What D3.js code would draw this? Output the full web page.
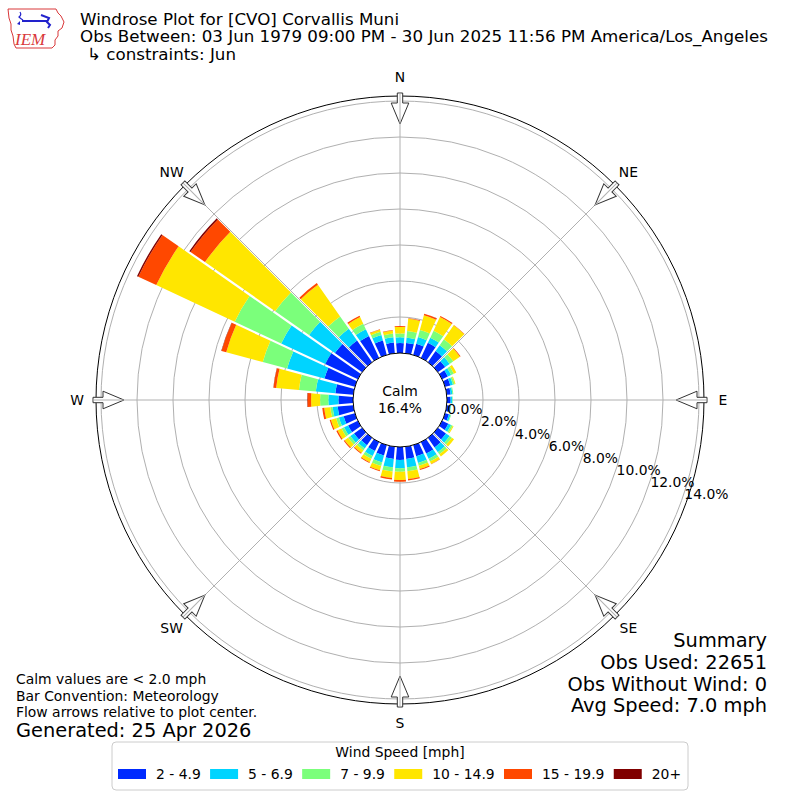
<!DOCTYPE html>
<html><head><meta charset="utf-8">
<script src="https://cdn.jsdelivr.net/npm/d3@7"></script>
<style>
body{margin:0;background:#fff}
svg{font-family:"DejaVu Sans",sans-serif;display:block}
</style></head>
<body><svg id="chart" width="800" height="800"></svg>
<script>
// ---------------- DATA ----------------
const directions = [0,10,20,30,40,50,60,70,80,90,100,110,120,130,140,150,160,170,
                    180,190,200,210,220,230,240,250,260,270,280,290,300,310,320,330,340,350];
const speedBins = ["2 - 4.9","5 - 6.9","7 - 9.9","10 - 14.9","15 - 19.9","20+"];
// percent of observations per direction for each speed bin
const bin2to5   = [0.55,0.58,0.64,0.92,0.75,0.50,0.35,0.30,0.22,0.20,0.17,0.22,0.38,0.55,0.65,0.70,0.64,0.68,
                   0.72,0.68,0.60,0.55,0.50,0.55,0.60,0.65,0.87,0.81,1.00,1.75,2.00,1.85,1.46,1.34,0.83,0.60];
const bin5to7   = [0.32,0.29,0.39,0.32,0.40,0.30,0.20,0.15,0.10,0.09,0.06,0.09,0.17,0.25,0.32,0.32,0.39,0.47,
                   0.46,0.47,0.40,0.30,0.22,0.25,0.25,0.27,0.28,0.56,1.09,2.15,2.70,1.75,0.80,0.41,0.32,0.30];
const bin7to10  = [0.22,0.37,0.40,0.43,0.40,0.25,0.17,0.10,0.05,0.03,0.02,0.04,0.10,0.15,0.14,0.17,0.16,0.22,
                   0.19,0.23,0.20,0.17,0.13,0.15,0.15,0.16,0.13,0.46,0.94,1.40,2.85,2.30,0.84,0.34,0.18,0.20];
const bin10to15 = [0.36,0.68,0.85,0.83,0.95,0.45,0.15,0.05,0.00,0.00,0.00,0.00,0.05,0.15,0.15,0.15,0.18,0.43,
                   0.46,0.37,0.25,0.21,0.18,0.24,0.25,0.30,0.34,0.50,1.27,2.10,4.81,4.76,2.15,0.41,0.12,0.17];
const bin15to20 = [0.05,0.04,0.08,0.07,0.02,0.04,0.00,0.00,0.00,0.00,0.00,0.00,0.00,0.00,0.00,0.02,0.06,0.08,
                   0.10,0.08,0.05,0.05,0.05,0.06,0.07,0.07,0.11,0.20,0.15,0.27,1.10,0.98,0.11,0.08,0.03,0.03];
const bin20plus = [0.00,0.00,0.01,0.00,0.00,0.00,0.00,0.00,0.00,0.00,0.00,0.00,0.00,0.00,0.00,0.00,0.00,0.00,
                   0.00,0.00,0.00,0.00,0.00,0.00,0.00,0.00,0.00,0.02,0.01,0.02,0.08,0.08,0.00,0.00,0.00,0.00];
const binColors = ["#002aff","#00d4ff","#7bff7b","#ffe600","#ff4800","#800000"];
const ringTicks = [0,2,4,6,8,10,12,14];
const compassLabels = ["N","NE","E","SE","S","SW","W","NW"];
const compassAngles = [0,45,90,135,180,225,270,315];
const calmPct = 16.4;
const titleLines = ["Windrose Plot for [CVO] Corvallis Muni",
  "Obs Between: 03 Jun 1979 09:00 PM - 30 Jun 2025 11:56 PM America/Los_Angeles",
  "\u21b3 constraints: Jun"];
const noteLines = ["Calm values are < 2.0 mph","Bar Convention: Meteorology","Flow arrows relative to plot center."];
const generatedText = "Generated: 25 Apr 2026";
const summaryLines = ["Summary","Obs Used: 22651","Obs Without Wind: 0","Avg Speed: 7.0 mph"];

// ---------------- SETUP ----------------
const svg = d3.select("#chart");
const cx = 400, cy = 400, calmR = 47, outerR = 304;
const r = d3.scaleLinear().domain([0, (outerR - calmR) / 18]).range([calmR, outerR]);
const ang = d3.scaleLinear().domain([0, 360]).range([0, 2 * Math.PI]);

const keys = ["b0","b1","b2","b3","b4","b5"];
const series = [bin2to5, bin5to7, bin7to10, bin10to15, bin15to20, bin20plus];
const table = directions.map((d, i) => {
  const row = {dir: d};
  keys.forEach((k, j) => row[k] = series[j][i]);
  return row;
});
const stacked = d3.stack().keys(keys)(table);

const g = svg.append("g").attr("transform", `translate(${cx},${cy})`);

// grid circles
g.selectAll("circle.grid").data(ringTicks.filter(t => t > 0)).join("circle")
  .attr("class","grid").attr("r", d => r(d))
  .attr("fill","none").attr("stroke","#b0b0b0").attr("stroke-width",1);

// radial grid lines
const radial = d => [Math.sin(ang(d)), -Math.cos(ang(d))];
g.selectAll("line.rad").data(compassAngles).join("line")
  .attr("class","rad")
  .attr("x1", 0).attr("y1", 0)
  .attr("x2", d => radial(d)[0] * outerR).attr("y2", d => radial(d)[1] * outerR)
  .attr("stroke","#b0b0b0").attr("stroke-width",1);

// bars
const arc = d3.arc().padAngle(0.022).padRadius(100);
const half = 5;
g.selectAll("g.layer").data(stacked).join("g").attr("class","layer")
  .attr("fill", (d, i) => binColors[i])
  .selectAll("path").data(d => d.filter(s => s[1] - s[0] > 0)).join("path")
  .attr("d", s => arc({
    innerRadius: r(s[0]), outerRadius: r(s[1]),
    startAngle: ang(s.data.dir - half), endAngle: ang(s.data.dir + half)
  }));

// calm circle
g.append("circle").attr("r", calmR).attr("fill","#fff").attr("stroke","#000").attr("stroke-width",1);
// outer spine
g.append("circle").attr("r", outerR).attr("fill","none").attr("stroke","#000").attr("stroke-width",1);

// arrows (pointing toward center)
const arrowPts = [[-2.7,-307],[2.7,-307],[2.7,-297],[8.8,-297],[0,-276],[-8.8,-297],[-2.7,-297]];
const ag = g.selectAll("g.arrow").data(compassAngles).join("g").attr("class","arrow")
  .attr("transform", d => `rotate(${d})`);
ag.append("polygon").attr("points", arrowPts.map(p => p.join(",")).join(" "))
  .attr("fill","#fff").attr("stroke","#333").attr("stroke-width",1);
ag.append("line").attr("x1",0).attr("x2",0).attr("y1",-307).attr("y2",-276)
  .attr("stroke","#b0b0b0").attr("stroke-width",1);

// compass labels
g.selectAll("text.comp").data(compassLabels).join("text").attr("class","comp")
  .attr("x", (d,i) => radial(compassAngles[i])[0] * 323)
  .attr("y", (d,i) => radial(compassAngles[i])[1] * 323)
  .attr("text-anchor","middle").attr("dominant-baseline","central")
  .attr("font-size", 13.9).text(d => d);

// ring labels
const phi = 19.8 * Math.PI / 180;
g.selectAll("text.ring").data(ringTicks).join("text").attr("class","ring")
  .attr("x", d => r(d) * Math.cos(phi) + 3)
  .attr("y", d => r(d) * Math.sin(phi) - 6.8)
  .attr("dominant-baseline","central").attr("font-size", 13.9)
  .text(d => d3.format(".1f")(d) + "%");

// calm text
g.append("text").attr("y", -9).attr("text-anchor","middle").attr("dominant-baseline","central")
  .attr("font-size", 13.9).text("Calm");
g.append("text").attr("y", 8).attr("text-anchor","middle").attr("dominant-baseline","central")
  .attr("font-size", 13.9).text(calmPct.toFixed(1) + "%");

// titles
const tY = [25, 42, 60];
svg.selectAll("text.title").data(titleLines).join("text").attr("class","title")
  .attr("x", (d,i) => i === 2 ? 87 : 80).attr("y", (d,i) => tY[i])
  .attr("font-size", 16.7).text(d => d);

// notes
svg.selectAll("text.note").data(noteLines).join("text").attr("class","note")
  .attr("x", 16).attr("y", (d,i) => 684 + i * 16.6).attr("font-size", 13.9).text(d => d);
svg.append("text").attr("x", 16).attr("y", 737).attr("font-size", 19.4).text(generatedText);

// summary
svg.selectAll("text.sum").data(summaryLines).join("text").attr("class","sum")
  .attr("x", 767).attr("y", (d,i) => 647 + i * 21.8).attr("text-anchor","end")
  .attr("font-size", 19.4).text(d => d);

// logo
const logo = svg.append("g");
logo.append("path")
  .attr("d","M8,9 L56,9 L58,13 L61,16 L64,22 L62,28 L58,31 L58,36 L55,40 L55,45 L52,48 L16,48 L14,44 L13,36 L11,30 L11,24 L9,18 Z")
  .attr("fill","none").attr("stroke","#d9383a").attr("stroke-width",1);
logo.append("line").attr("x1",22).attr("y1",21).attr("x2",48).attr("y2",21).attr("stroke","#2222cc").attr("stroke-width",2);
logo.append("path").attr("d","M20,12 Q22,15 19,17 Q21,19 23,20").attr("fill","none").attr("stroke","#2222cc").attr("stroke-width",1.2);
logo.append("path").attr("d","M17,24 L20,21 L20,25 Z").attr("fill","#2222cc");
logo.append("path").attr("d","M41,15 L49,18 L47,22 L50,25 L48,28").attr("fill","none").attr("stroke","#2222cc").attr("stroke-width",2);
logo.append("text").attr("x",15).attr("y",45).attr("font-family","'Liberation Serif',serif")
  .attr("font-style","italic").attr("font-size",17).attr("fill","#d9383a").text("IEM");

// legend
const leg = svg.append("g");
leg.append("rect").attr("x",112).attr("y",742).attr("width",576).attr("height",48).attr("rx",4)
  .attr("fill","#fff").attr("stroke","#cccccc").attr("stroke-width",1);
leg.append("text").attr("x",400).attr("y",757).attr("text-anchor","middle").attr("font-size",13.9)
  .text("Wind Speed [mph]");
let lx = 118;
speedBins.forEach((lab, i) => {
  leg.append("rect").attr("x", lx).attr("y", 769).attr("width", 28).attr("height", 10).attr("fill", binColors[i]);
  const t = leg.append("text").attr("x", lx + 38).attr("y", 779).attr("font-size", 13.9).text(lab);
  lx += 38 + t.node().getComputedTextLength() + 9.3;
});
</script></body></html>
